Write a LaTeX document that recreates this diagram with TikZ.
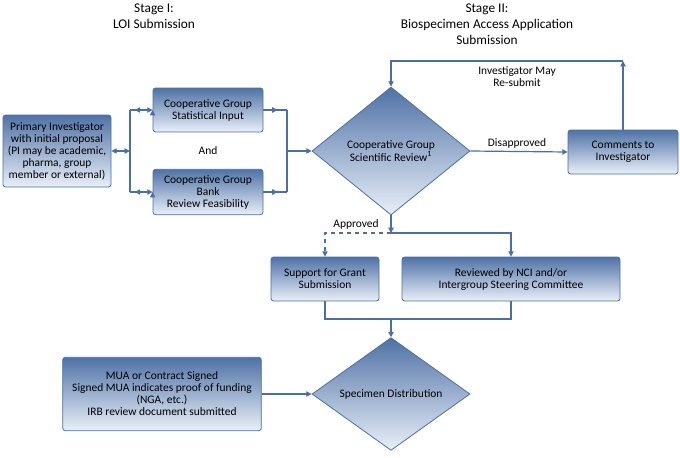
\documentclass[tikz,border=0pt]{standalone}
\usepackage{fontspec}
\setmainfont{Carlito}
\usepackage{xcolor}
\usetikzlibrary{arrows.meta,shapes.geometric,decorations.markings}

\definecolor{flowline}{HTML}{4A6FA5}
\definecolor{boxtop}{HTML}{4F72A6}
\definecolor{boxbot}{HTML}{E9EFF8}

\begin{document}
\begin{tikzpicture}[x=0.75pt,y=-0.75pt,
  font=\fontsize{8.6}{9}\selectfont,
  >={Triangle[length=4pt,width=4pt]},
  every path/.style={draw=flowline,line width=0.9pt},
  box/.style={rectangle,rounded corners=2pt,draw=flowline,line width=0.6pt,
    top color=boxtop,bottom color=boxbot,align=center,inner sep=1pt},
  decision/.style={diamond,draw=flowline,line width=0.6pt,
    top color=boxtop,bottom color=boxbot,align=center,inner sep=0pt},
  label/.style={align=center,inner sep=0pt},
  heading/.style={label,font=\fontsize{10}{12}\selectfont},
  midtip/.style={postaction={decorate},decoration={markings,
    mark=at position #1 with {\arrow{>}}}},
  midback/.style={postaction={decorate},decoration={markings,
    mark=at position #1 with {\arrow{<}}}}]
\path[use as bounding box,draw=none] (0,0) rectangle (680,457);

% stage headings
\node[heading] (S1) at (154,16) {Stage I:\\LOI Submission};
\node[heading] (S2) at (487,24) {Stage II:\\Biospecimen Access Application\\Submission};

% boxes
\node[box, minimum width=81pt, minimum height=54pt] (PI) at (57,151)
  {Primary Investigator\\with initial proposal\\(PI may be academic,\\pharma, group\\member or external)};
\node[box, minimum width=82.5pt, minimum height=33pt] (Stat) at (208,110)
  {Cooperative Group\\Statistical Input};
\node[box, minimum width=82.5pt, minimum height=34pt] (Bank) at (208,192)
  {Cooperative Group\\Bank\\Review Feasibility};
\node[label] (And) at (208,151) {And};
\node[decision, minimum width=118.5pt, minimum height=96pt] (Rev) at (391,151)
  {Cooperative Group\\Scientific Review\textsuperscript{1}};
\node[box, minimum width=82.5pt, minimum height=33pt] (Com) at (623,152)
  {Comments to\\Investigator};
\node[box, minimum width=81pt, minimum height=33pt] (Grant) at (325,279)
  {Support for Grant\\Submission};
\node[box, minimum width=163.5pt, minimum height=33pt] (NCI) at (511,279)
  {Reviewed by NCI and/or\\Intergroup Steering Committee};
\node[decision, minimum width=118.5pt, minimum height=63pt] (Dist) at (391,394)
  {Specimen Distribution};
\node[box, minimum width=149pt, minimum height=55pt] (MUA) at (162,394)
  {MUA or Contract Signed\\Signed MUA indicates proof of funding\\(NGA, etc.)\\IRB review document submitted};

% edge labels
\node[label] (Dis) at (517,143) {Disapproved};
\node[label] (Resub) at (517,77) {Investigator May\\Re-submit};
\node[label] (Appr) at (356,224) {Approved};

% bus points
\coordinate (LB) at (130,151);
\coordinate (LBt) at (130,110);
\coordinate (LBb) at (130,192);
\coordinate (RBt) at (287,110);
\coordinate (RBb) at (287,192);
\coordinate (RB) at (287,151);
\coordinate (Loop) at (623,61);
\coordinate (Split) at (391,233);
\coordinate (Join) at (391,319);

% connectors
\draw[<->] (PI.east) -- (LB);
\draw (LBt) -- (LBb);
\draw[->,midback=0.45] (LBt) -- (Stat.west);
\draw[->,midback=0.45] (LBb) -- (Bank.west);
\draw[midtip=0.6] (Stat.east) -- (RBt);
\draw[midtip=0.6] (Bank.east) -- (RBb);
\draw (RBt) -- (RBb);
\draw[->] (RB) -- (Rev.west);
\draw[->] (Rev.east) -- (Com.west);
\draw[->] (Com.north) -- (Loop);
\draw[->] (Loop) -| (Rev.north);
\draw[->] (Rev.south) -- (Split);
\draw[->,dashed] (Split) -| (Grant.north);
\draw[->] (Split) -| (NCI.north);
\draw (Grant.south) |- (Join) -| (NCI.south);
\draw[->] (Join) -- (Dist.north);
\draw[->] (MUA.east) -- (Dist.west);
\end{tikzpicture}
\end{document}
